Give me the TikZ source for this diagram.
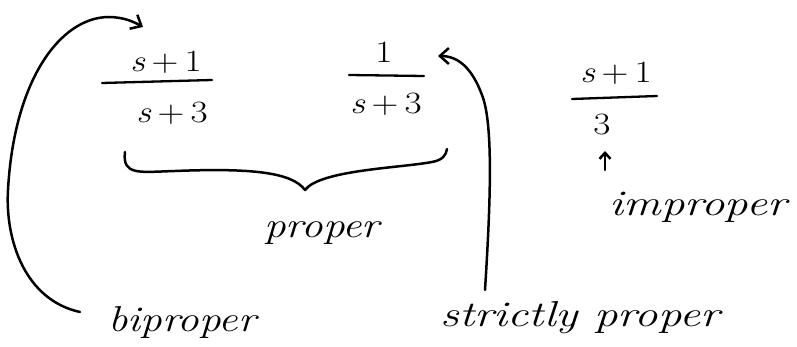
\documentclass[tikz,border=0pt]{standalone}
\usepackage{fontspec}
\usepackage{graphicx}
\usetikzlibrary{arrows.meta}
\newcommand{\wide}[1]{\scalebox{1.2}[1]{#1}}
\newcommand{\sv}{\textit{s}}
\begin{document}
\begin{tikzpicture}[x=1pt,y=-1pt, line width=2.5pt, line cap=round, line join=round,
  txt/.style={font=\fontsize{31}{36}\selectfont, inner sep=0pt},
  lbl/.style={font=\itshape\fontsize{36}{40}\selectfont, inner sep=0pt},
  bar/.style={draw, line width=2.3pt},
  curvearrow/.style={draw, -{Straight Barb[length=9pt,width=16pt,line width=2.5pt]}}]
\useasboundingbox[fill=white] (0,0) rectangle (797,347);
% fraction 1
\node[txt] (n1) at (166,62) {\wide{\sv\,+\,1}};
\coordinate (b1l) at (102,83); \coordinate (b1r) at (212,80);
\draw[bar] (b1l) -- (b1r);
\node[txt] (d1) at (172,113) {\wide{\sv\,+\,3}};
% fraction 2
\node[txt] (n2) at (384,52) {\wide{1}};
\coordinate (b2l) at (349,75); \coordinate (b2r) at (424,76);
\draw[bar] (b2l) -- (b2r);
\node[txt] (d2) at (386,104) {\wide{\sv\,+\,3}};
% fraction 3
\node[txt] (n3) at (616,73) {\wide{\sv\,+\,1}};
\coordinate (b3l) at (572,99); \coordinate (b3r) at (657,96);
\draw[bar] (b3l) -- (b3r);
\node[txt] (d3) at (602,125) {\wide{3}};
% labels
\node[lbl] (prop) at (322,233) {\wide{proper}};
\node[lbl] (imp) at (698,207) {\scalebox{1.3}[1]{improper}};
\node[lbl] (bip) at (182,322) {\wide{biproper}};
\node[lbl] (sp) at (580,318) {\scalebox{1.3}[1]{strictly proper}};
% brace
\coordinate (brl) at (125,152);
\coordinate (brm) at (305,190);
\coordinate (brr) at (447,149);
\draw (brl) .. controls (122,176) and (140,172) .. (175,171)
  .. controls (250,168) and (292,172) .. (brm)
  .. controls (320,170) and (400,168) .. (432,162)
  .. controls (443,160) and (446,155) .. (brr);
% improper arrow
\coordinate (ia) at (605,170);
\coordinate (ib) at (605,151);
\draw[-{Straight Barb[length=6pt,width=11pt,line width=2.5pt]}] (ia) -- (ib);
% left curved arrow
\coordinate (ls) at (80,312);
\coordinate (le) at (143,27);
\draw[curvearrow] (ls) .. controls (25,300) and (5,240) .. (8,190)
  .. controls (14,80) and (60,18) .. (108,17)
  .. controls (124,17) and (134,22) .. (le);
% right curved arrow
\coordinate (rs) at (485,290);
\coordinate (re) at (438,56);
\draw[curvearrow] (rs) .. controls (490,210) and (494,125) .. (482,95)
  .. controls (472,68) and (458,56) .. (re);
\end{tikzpicture}
\end{document}
